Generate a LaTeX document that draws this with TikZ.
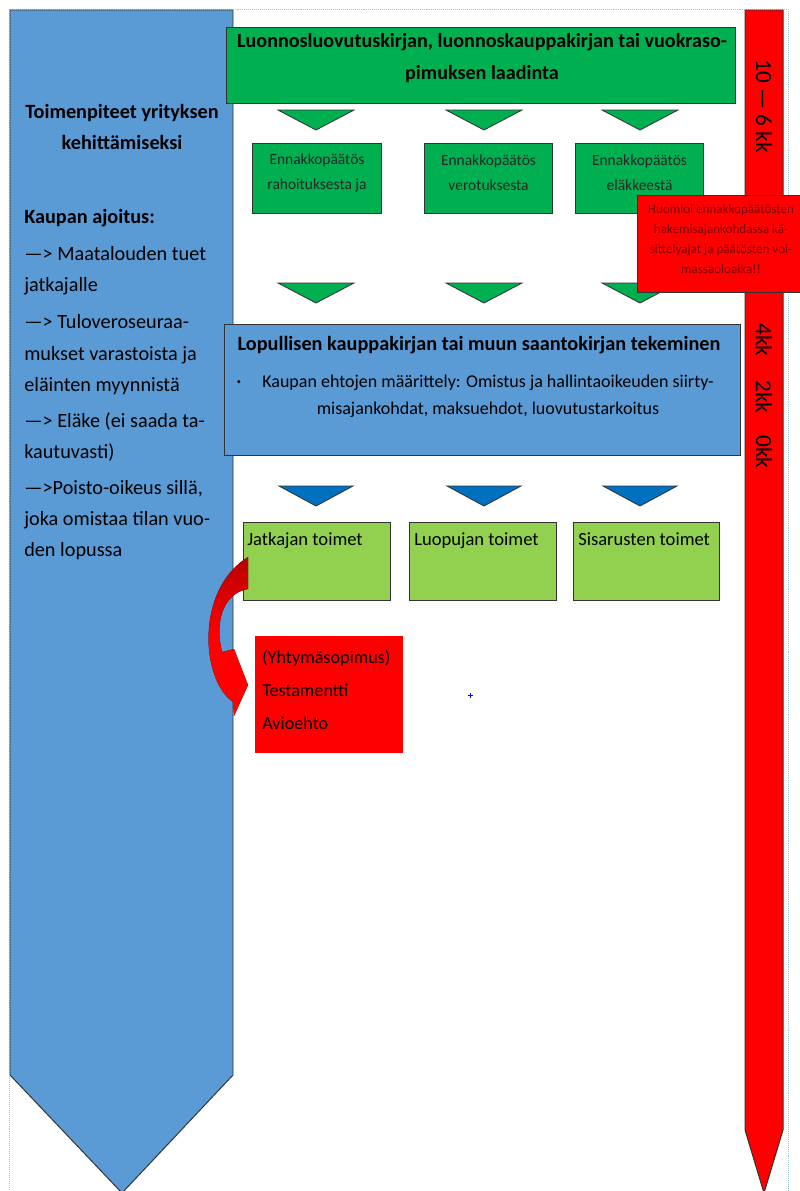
\documentclass[tikz,border=0pt]{standalone}
\usepackage{fontspec}
\setmainfont{Carlito}
\usetikzlibrary{positioning}
\definecolor{colblue}{HTML}{5B9BD5}
\definecolor{boxgreen}{HTML}{00B050}
\definecolor{lightgreen}{HTML}{92D050}
\definecolor{darkblue}{HTML}{0070C0}
\definecolor{notered}{HTML}{FF0000}
\definecolor{notetext}{HTML}{7A0000}
\definecolor{pageline}{HTML}{9DC3E6}

\begin{document}
\begin{tikzpicture}[x=0.025cm, y=-0.025cm,
        outline/.style={draw=black!80, line width=0.7pt},
        draftbox/.style={rectangle, outline, fill=boxgreen, minimum width=12.7cm, minimum height=1.875cm},
        rulingbox/.style={rectangle, outline, fill=boxgreen, minimum width=3.2cm, minimum height=1.75cm},
        notebox/.style={rectangle, outline, fill=notered, minimum width=4.35cm, minimum height=2.4cm},
        dealbox/.style={rectangle, outline, fill=colblue, minimum width=12.875cm, minimum height=3.25cm},
        actbox/.style={rectangle, outline, fill=lightgreen, minimum width=3.65cm, minimum height=1.95cm},
        docbox/.style={rectangle, fill=notered, minimum width=3.7cm, minimum height=2.925cm},
        pointer/.style={outline, line width=0.6pt},
        rulingtext/.style={align=center, text=black!85, font=\fontsize{11}{18}\selectfont},
        acttext/.style={anchor=base west, inner sep=0pt, font=\fontsize{13.2}{15}\selectfont},
        monthtext/.style={rotate=-90, inner sep=0pt, font=\fontsize{16.5}{19}\selectfont}
    ]
        \useasboundingbox (0,0) rectangle (800,1191);
        \clip (0,0) rectangle (800,1191);
        \fill[white] (0,0) rectangle (800,1191);
        \draw[pageline, densely dotted, line width=0.4pt] (9,1195) -- (9,9) -- (788,9) -- (788,1195);

        % time axes
        \draw[outline, fill=colblue] (10,10) -- (233,10) -- (233,1075) -- (122,1193) -- (10,1075) -- cycle;
        \draw[outline, fill=notered] (745,10) -- (783,10) -- (783,1130) -- (764,1193) -- (745,1130) -- cycle;

        \node[font=\bfseries\fontsize{14.4}{21.5}\selectfont, align=center] (goal) at (122,127) {Toimenpiteet yrityksen\\kehittämiseksi};
        \node[anchor=north west, align=left, inner sep=0pt, font=\fontsize{14.4}{22.3}\selectfont] (timing) at (24,209)
            {\textbf{Kaupan ajoitus:}\\[4pt]
             —> Maatalouden tuet\\jatkajalle\\[4pt]
             —> Tuloveroseuraa-\\mukset varastoista ja\\eläinten myynnistä\\[3pt]
             —> Eläke (ei saada ta-\\kautuvasti)\\[3pt]
             —>Poisto-oikeus sillä,\\joka omistaa tilan vuo-\\den lopussa};

        \node[monthtext] (m10) at (764,106) {10 — 6 kk};
        \node[monthtext] (m4) at (764,340) {4kk};
        \node[monthtext] (m2) at (764,397) {2kk};
        \node[monthtext] (m0) at (764,452) {0kk};

        % draft
        \node[draftbox] (draft) at (481,65.5) {};
        \node[align=center, font=\bfseries\fontsize{14.3}{22.5}\selectfont] (drafttext) at (482,58)
            {Luonnosluovutuskirjan, luonnoskauppakirjan tai vuokraso-\\pimuksen laadinta};
        \foreach \cx in {316,484,640}
            \draw[pointer, fill=boxgreen] (\cx-38,110) -- (\cx+38,110) -- (\cx,130) -- cycle;

        \node[rulingbox] (r1) at (317,178) {};
        \node[rulingbox] (r2) at (488.5,178) {};
        \node[rulingbox] (r3) at (639.5,178) {};
        \node[rulingtext] (r1text) at (317,173) {Ennakkopäätös\\rahoituksesta ja};
        \node[rulingtext] (r2text) at (488.5,173) {Ennakkopäätös\\verotuksesta};
        \node[rulingtext] (r3text) at (639.5,173) {Ennakkopäätös\\eläkkeestä};

        \foreach \cx in {316,484,640}
            \draw[pointer, fill=boxgreen] (\cx-38,283) -- (\cx+38,283) -- (\cx,303) -- cycle;

        \node[notebox] (note) at (725,244) {};
        \node[align=center, text=notetext, font=\fontsize{9.3}{14}\selectfont] (notetext) at (721,239)
            {Huomioi ennakkopäätösten\\hakemisajankohdassa kä-\\sittelyajat ja päätösten voi-\\massaoloaika!!};

        % final deed
        \node[dealbox] (deal) at (482.5,390) {};
        \node[font=\bfseries\fontsize{14.4}{16}\selectfont] (dealtitle) at (479,345) {Lopullisen kauppakirjan tai muun saantokirjan tekeminen};
        \node[font=\fontsize{6}{7}\selectfont] (bullet) at (239,383) {•};
        \node[align=center, font=\fontsize{12.8}{19.5}\selectfont] (dealtext) at (488,396)
            {Kaupan ehtojen määrittely: Omistus ja hallintaoikeuden siirty-\\misajankohdat, maksuehdot, luovutustarkoitus};

        \foreach \cx in {316,484,640}
            \draw[pointer, fill=darkblue] (\cx-37,486) -- (\cx+37,486) -- (\cx,506) -- cycle;

        \node[actbox] (heir) at (317,561) {};
        \node[actbox] (seller) at (483,561) {};
        \node[actbox] (sibs) at (646.5,561) {};
        \node[acttext] (heirtext) at (247,545) {Jatkajan toimet};
        \node[acttext] (sellertext) at (414,545) {Luopujan toimet};
        \node[acttext] (sibstext) at (578,545) {Sisarusten toimet};

        \node[docbox] (docs) at (329,694.5) {};
        \node[anchor=west, align=left, inner sep=0pt, font=\fontsize{12.9}{23.5}\selectfont] (docstext) at (262,690)
            {(Yhtymäsopimus)\\Testamentti\\Avioehto};

        \fill[top color=red!72!black, bottom color=notered, middle color=notered]
            (248,557) -- (248,589) .. controls (228,592) and (213,615) .. (222,652)
            -- (234,649) -- (248,685) -- (234,716) -- (233,702)
            .. controls (201,680) and (195,590) .. (248,557) -- cycle;

        \draw[blue, line width=0.4pt] (467.5,695) -- (472.5,695) (470,692.5) -- (470,697.5);
\end{tikzpicture}
\end{document}
